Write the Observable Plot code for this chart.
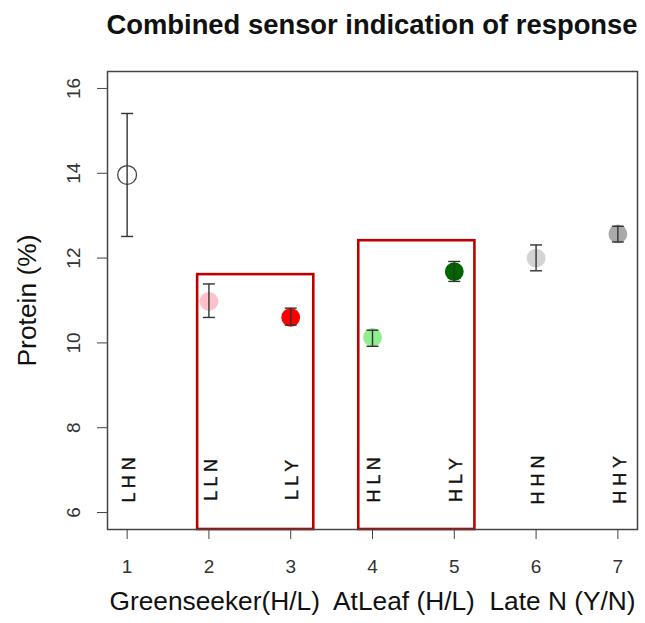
<!DOCTYPE html>
<html><head><meta charset="utf-8">
<script src="https://cdn.jsdelivr.net/npm/d3@7"></script>
<script src="https://cdn.jsdelivr.net/npm/@observablehq/plot@0.6"></script>
<style>
body{margin:0;background:#fff;font-family:"Liberation Sans",Arial,sans-serif;}
#wrap{position:relative;width:645px;height:623px;overflow:hidden;}
#title{position:absolute;left:102px;width:540px;top:11px;text-align:center;font-weight:bold;font-size:27.4px;line-height:1;color:#111;white-space:nowrap;}
#chart{position:absolute;left:0;top:50px;}
svg text{white-space:pre;}
</style></head><body>
<div id="wrap"><div id="title">Combined sensor indication of response</div><div id="chart"></div></div>
<script>
// ---- data ----
const treatment = [1, 2, 3, 4, 5, 6, 7];
const protein   = [13.96, 10.98, 10.60, 10.13, 11.68, 12.00, 12.57];
const lower     = [12.51, 10.60, 10.42, 9.92, 11.45, 11.70, 12.38];
const upper     = [15.41, 11.39, 10.82, 10.30, 11.92, 12.31, 12.75];
const codes     = ["L H N", "L L N", "L L Y", "H L N", "H L Y", "H H N", "H H Y"];
const hollow    = ["L H N"];
const boxLeft   = [1.862, 3.832];
const boxRight  = [3.282, 5.252];
const boxTop    = [11.61, 12.41];
const codeLabelY = 6.77;
const xTicks = [1, 2, 3, 4, 5, 6, 7];
const yTicks = [6, 8, 10, 12, 14, 16];
const xLabel = "Greenseeker(H/L)  AtLeaf (H/L)  Late N (Y/N)";
const yLabel = "Protein (%)";

// ---- options ----
const palette = ["#ffffff", "#ffc0cb", "#ff0000", "#90ee90", "#006400", "#d3d3d3", "#a9a9a9"];
const xDomain = [0.76, 7.24];
const yDomain = [5.6, 16.4];

const data = treatment.map((x, i) => ({x, y: protein[i], lo: lower[i], hi: upper[i], code: codes[i]}));
const caps = data.flatMap(d => [{x: d.x, y: d.lo}, {x: d.x, y: d.hi}]);
const boxes = boxLeft.map((x1, i) => ({x1, x2: boxRight[i], top: boxTop[i]}));

const capSymbol = {draw(ctx, size) { const w = Math.sqrt(size / Math.PI); ctx.moveTo(-w, 0); ctx.lineTo(w, 0); }};
const font = "'Liberation Sans', Arial, sans-serif";

const svg = Plot.plot({
  width: 645, height: 573,
  marginTop: 21, marginBottom: 94, marginLeft: 107, marginRight: 8,
  x: {domain: xDomain},
  y: {domain: yDomain},
  color: {type: "ordinal", domain: codes, range: palette},
  style: {fontFamily: font, background: "white", overflow: "visible", color: "#222"},
  marks: [
    Plot.rect(boxes, {x1: "x1", x2: "x2", y1: () => yDomain[0], y2: "top", fill: "none", stroke: "#c00000", strokeWidth: 2.6}),
    Plot.dot(data, {x: "x", y: "y", r: 9.4, fill: "code"}),
    Plot.dot(data.filter(d => hollow.includes(d.code)), {x: "x", y: "y", r: 9.4, fill: "white", stroke: "#444", strokeWidth: 1.3}),
    Plot.ruleX(data, {x: "x", y1: "lo", y2: "hi", stroke: "#333", strokeWidth: 1.4}),
    Plot.dot(caps, {x: "x", y: "y", r: 6, symbol: capSymbol, fill: "none", stroke: "#333", strokeWidth: 1.4}),
    Plot.text(data, {x: "x", y: () => codeLabelY, text: "code", rotate: -90, textAnchor: "middle", fontSize: 18, dx: 2, fill: "#111", stroke: "#111", strokeWidth: 0.4}),
    Plot.frame({stroke: "#444", strokeWidth: 1.5}),
    Plot.axisX(xTicks, {tickSize: 10, tickPadding: 20, fontSize: 19, label: null, stroke: "#444", fill: "#333"}),
    Plot.axisY(yTicks, {tickSize: 10, tickFormat: () => "", label: null, stroke: "#444"}),
    Plot.text(yTicks, {y: d => d, frameAnchor: "left", textAnchor: "middle", dx: -34, rotate: -90, fontSize: 19, fill: "#333", text: d => String(d)}),
    Plot.text([yLabel], {frameAnchor: "left", textAnchor: "middle", dx: -80, rotate: -90, fontSize: 26.4, fill: "#111", text: d => d}),
    Plot.text([xLabel], {frameAnchor: "bottom", textAnchor: "middle", dy: 80.7, fontSize: 26.3, fill: "#111", text: d => d})
  ]
});
document.getElementById("chart").appendChild(svg);
</script>
</body></html>
